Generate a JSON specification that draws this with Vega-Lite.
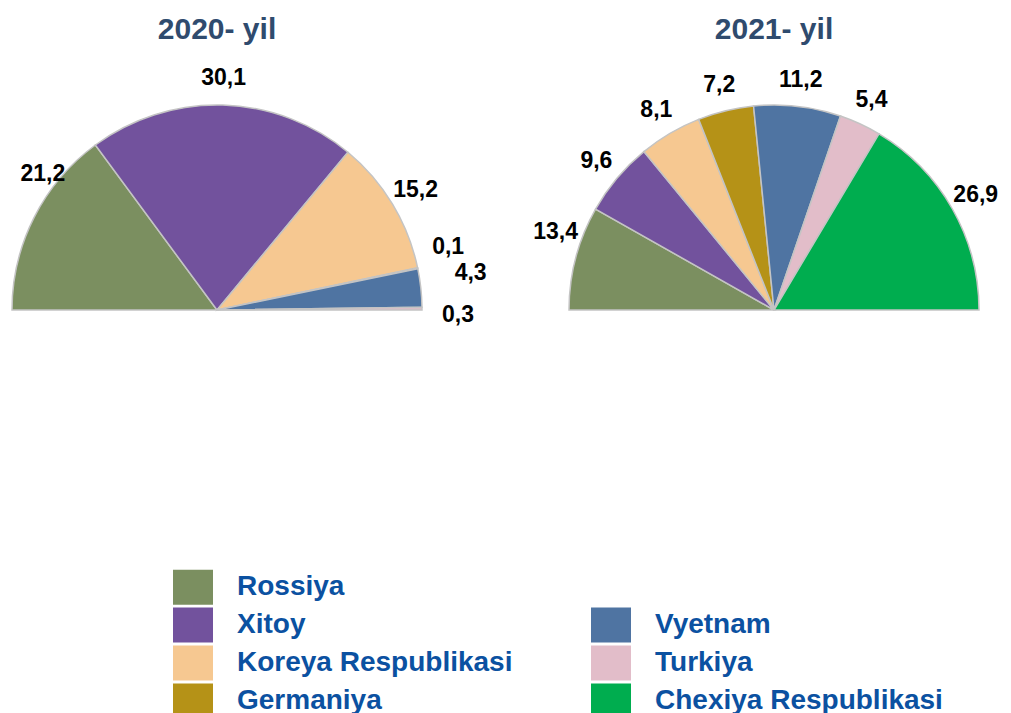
{
  "$schema": "https://vega.github.io/schema/vega-lite/v6.json",
  "padding": {"left": 0, "top": 15, "right": 0, "bottom": 0},
  "background": "white",
  "bounds": "flush",
  "config": {
    "view": {"stroke": null},
    "font": "Liberation Sans",
    "locale": {"number": {"decimal": ",", "thousands": " ", "grouping": [3], "currency": ["", ""]}},
    "text": {"fontSize": 23, "fontWeight": "bold", "color": "black", "font": "Liberation Sans", "radius": 232}
  },
  "data": {"values": [
    {"year": "2020", "Country": "Rossiya", "v": 21.2},
    {"year": "2020", "Country": "Xitoy", "v": 30.1},
    {"year": "2020", "Country": "Koreya Respublikasi", "v": 15.2},
    {"year": "2020", "Country": "Germaniya", "v": 0.1},
    {"year": "2020", "Country": "Vyetnam", "v": 4.3},
    {"year": "2020", "Country": "Turkiya", "v": 0.3},
    {"year": "2021", "Country": "Rossiya", "v": 13.4},
    {"year": "2021", "Country": "Xitoy", "v": 9.6},
    {"year": "2021", "Country": "Koreya Respublikasi", "v": 8.1},
    {"year": "2021", "Country": "Germaniya", "v": 7.2},
    {"year": "2021", "Country": "Vyetnam", "v": 11.2},
    {"year": "2021", "Country": "Turkiya", "v": 5.4},
    {"year": "2021", "Country": "Chexiya Respublikasi", "v": 26.9}
  ]},
  "transform": [
    {"window": [{"op": "row_number", "as": "k"}], "groupby": ["year"]},
    {"stack": "v", "groupby": ["year"], "sort": [{"field": "k", "order": "ascending"}], "offset": "normalize", "as": ["v0", "v1"]},
    {"calculate": "(datum.v0 + datum.v1) / 2", "as": "mid"}
  ],
  "facet": {
    "column": {
      "field": "year", "type": "nominal", "title": null,
      "header": {"labelExpr": "datum.value == '2020' ? datum.value + '- yil\u00a0\u00a0\u00a0' : '\u00a0\u00a0\u00a0' + datum.value + '- yil'", "labelFontSize": 30, "labelFontWeight": "bold", "labelColor": "#2f4b6e", "labelFont": "Liberation Sans", "labelPadding": 25}
    }
  },
  "spacing": 123,
  "spec": {
    "width": 434,
    "height": 480,
    "encoding": {
      "theta": {"field": "mid", "type": "quantitative", "scale": {"domain": [0, 1], "range": [-1.5708, 1.5708]}},
      "text": {"field": "v", "type": "quantitative", "format": ".1f"}
    },
    "layer": [
      {
        "mark": {"type": "arc", "stroke": "#c4c4c4", "strokeWidth": 1.5},
        "encoding": {
          "theta": {"field": "v0", "type": "quantitative", "scale": {"domain": [0, 1], "range": [-1.5708, 1.5708]}},
          "theta2": {"field": "v1"},
          "radius": {"condition": {"test": "datum.year == '2021'", "value": 208}, "value": 205},
          "text": null,
          "color": {
            "field": "Country", "type": "nominal",
            "scale": {
              "domain": ["Rossiya", "Xitoy", "Koreya Respublikasi", "Germaniya", " ", "Vyetnam", "Turkiya", "Chexiya Respublikasi"],
              "range": ["#7b8f60", "#72529d", "#f6c891", "#b59217", "transparent", "#4f74a2", "#e2bdc9", "#00ad4f"]
            },
            "legend": {
              "title": null, "orient": "none", "legendX": 173, "legendY": 497, "columns": 2, "direction": "vertical",
              "symbolType": "M-1,-0.875H1V0.875H-1Z", "symbolSize": 1600, "symbolStrokeWidth": 0,
              "labelFont": "Liberation Sans", "labelFontSize": 28, "labelFontWeight": "bold", "labelColor": "#0b51a1",
              "labelLimit": 400, "labelOffset": 24, "rowPadding": -3.2, "columnPadding": 78, "padding": 0
            }
          }
        }
      },
      {
        "transform": [{"filter": "!(datum.year == '2020' && (datum.Country == 'Rossiya' || datum.Country == 'Germaniya' || datum.Country == 'Vyetnam' || datum.Country == 'Turkiya')) && !(datum.year == '2021' && datum.Country == 'Rossiya')"}],
        "mark": {"type": "text"}
      },
      {
        "transform": [{"filter": "datum.year == '2020' && datum.Country == 'Rossiya'"}],
        "mark": {"type": "text", "dx": 33, "dy": -31}
      },
      {
        "transform": [{"filter": "datum.year == '2021' && datum.Country == 'Rossiya'"}],
        "mark": {"type": "text", "dx": 6, "dy": -19}
      },
      {
        "transform": [{"filter": "datum.year == '2020' && datum.Country == 'Germaniya'"}],
        "mark": {"type": "text", "dx": 4, "dy": -16}
      },
      {
        "transform": [{"filter": "datum.year == '2020' && datum.Country == 'Vyetnam'"}],
        "mark": {"type": "text", "dx": 23, "dy": -12}
      },
      {
        "transform": [{"filter": "datum.year == '2020' && datum.Country == 'Turkiya'"}],
        "mark": {"type": "text", "dx": 9, "dy": 7}
      }
    ]
  }
}
